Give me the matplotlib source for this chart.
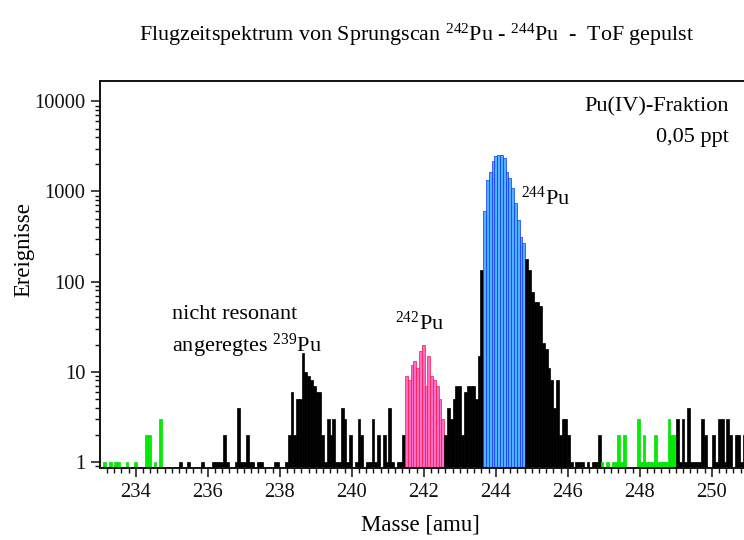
import numpy as np
import matplotlib
matplotlib.use("Agg")
import matplotlib.pyplot as plt
from matplotlib.ticker import MultipleLocator, LogLocator, NullFormatter, FixedLocator, FixedFormatter

plt.rcParams['font.family'] = ['Liberation Serif', 'DejaVu Serif']
plt.rcParams['mathtext.fontset'] = 'custom'
plt.rcParams['mathtext.rm'] = 'Liberation Serif'
plt.rcParams['mathtext.it'] = 'Liberation Serif:italic'
plt.rcParams['mathtext.bf'] = 'Liberation Serif:bold'

# Time-of-flight bins converted to mass
BIN_START = 233.10    # amu, left edge of bin 0
BIN_WIDTH = 0.0776    # amu per bin

# Counts per bin, one list per coloured segment; *_start is the first bin index
green_lo_start = 0
green_lo = [1, 0, 1, 0, 1, 1, 0, 0, 1, 0, 0, 1, 0, 0, 0, 2, 2, 0, 1, 0, 3]

black_a_start = 21
black_a = [0, 0, 0, 0, 0, 0, 1, 0, 0, 1,
           0, 0, 0, 0, 1, 0, 0, 0, 1, 1,
           1, 1, 2, 1, 0, 0, 1, 4, 1, 1,
           2, 1, 1, 0, 1, 1, 0, 0, 0, 0,
           1, 1, 0, 0, 1, 2, 6, 2, 5, 5,
           16, 10, 9, 8, 7, 6, 6, 2, 1, 3,
           2, 3, 1, 1, 4, 3, 1, 2, 0, 1,
           3, 2, 0, 1, 1, 3, 1, 2, 0, 2,
           1, 4, 1, 0, 1, 1, 2]

pu242_start = 108
pu242 = [9, 8, 12, 13, 11, 17, 20, 7, 15, 9, 8, 7, 5, 3]

black_b_start = 122
black_b = [2, 4, 3, 5, 7, 7, 2, 6, 7, 7, 7, 5, 15, 134]

pu244_start = 136
pu244 = [607, 1342, 1634, 2198, 2495, 2541, 2520, 2335, 1660, 1400, 1084, 740, 483, 315, 266]

black_c_start = 151
black_c = [177, 134, 77, 60, 60, 53, 21, 18, 11, 8, 4, 8, 2, 3, 3, 2, 1, 0, 1, 1,
           1, 0, 1, 0, 1, 1, 2]

green_hi_start = 178
green_hi = [1, 0, 1, 0, 1, 1, 2, 1, 2, 0, 0, 0, 0, 3, 1, 2, 1, 1, 1, 2,
            1, 1, 1, 1, 3, 2, 2]

black_d_start = 205
black_d = [3, 1, 3, 1, 4, 1, 1, 1, 1, 3, 2, 0, 0, 2, 1, 3, 3, 1, 3, 2,
           0, 2, 2, 1, 2]

segments = [
    (green_lo_start, green_lo, '#00ee00', '#00dd00'),
    (black_a_start, black_a, 'black', 'black'),
    (pu242_start, pu242, '#ff6ec7', '#ff1040'),
    (black_b_start, black_b, 'black', 'black'),
    (pu244_start, pu244, '#4db3ff', '#1030ff'),
    (black_c_start, black_c, 'black', 'black'),
    (green_hi_start, green_hi, '#00ee00', '#00dd00'),
    (black_d_start, black_d, 'black', 'black'),
]

W, H = 744, 540
fig = plt.figure(figsize=(W / 100, H / 100), dpi=100)
ax = fig.add_axes([100 / W, 72 / H, 646 / W, 387 / H])

for start, counts, face, edge in segments:
    counts = np.asarray(counts)
    idx = start + np.arange(len(counts))
    left = BIN_START + idx * BIN_WIDTH
    keep = counts > 0
    ax.bar(left[keep], counts[keep], width=BIN_WIDTH, align='edge', log=True,
           color=face, edgecolor=edge, linewidth=0.5, zorder=2)

ax.set_yscale('log')
ax.set_xlim(233.008, 250.95)
ax.set_ylim(0.853, 16840)

ax.xaxis.set_major_locator(MultipleLocator(2))
ax.xaxis.set_minor_locator(MultipleLocator(0.2))
ax.yaxis.set_major_locator(FixedLocator([1, 10, 100, 1000, 10000]))
ax.yaxis.set_major_formatter(FixedFormatter(['1', '10', '100', '1000', '10000']))
ax.yaxis.set_minor_locator(LogLocator(base=10, subs=np.arange(2, 10)))
ax.yaxis.set_minor_formatter(NullFormatter())

ax.tick_params(which='major', direction='out', length=6.5, width=1.1,
               labelsize=14.8, pad=4, colors='#111111')
ax.tick_params(which='minor', direction='out', length=3.4, width=1.0, colors='#111111')
ax.tick_params(top=False, right=False)
for side in ('left', 'bottom', 'top'):
    ax.spines[side].set_linewidth(1.4)
    ax.spines[side].set_color('#111111')
ax.spines['right'].set_visible(False)

fs = 16
fig.text(417 / W, 1 - 41 / H,
         r'Flugzeitspektrum von Sprungscan $^{242}$Pu - $^{244}$Pu  -  ToF gepulst',
         ha='center', va='baseline', fontsize=15.8)
fig.text(420 / W, 1 - 531 / H, 'Masse [amu]', ha='center', va='baseline', fontsize=16.4)
fig.text(24 / W, 1 - 250 / H, 'Ereignisse', ha='center', va='center',
         rotation=90, fontsize=16.4)

fig.text(729 / W, 1 - 111.7 / H, 'Pu(IV)-Fraktion', ha='right', va='baseline', fontsize=fs)
fig.text(729 / W, 1 - 141.7 / H, '0,05 ppt', ha='right', va='baseline', fontsize=fs)
fig.text(521 / W, 1 - 205 / H, r'$^{244}$Pu', ha='left', va='baseline', fontsize=fs)
fig.text(395 / W, 1 - 330 / H, r'$^{242}$Pu', ha='left', va='baseline', fontsize=fs)
fig.text(171.7 / W, 1 - 319.3 / H, 'nicht resonant', ha='left', va='baseline', fontsize=fs)
fig.text(171.7 / W, 1 - 351.7 / H, r'angeregtes $^{239}$Pu', ha='left', va='baseline', fontsize=fs)

fig.savefig('out.png', dpi=100, facecolor='white')
